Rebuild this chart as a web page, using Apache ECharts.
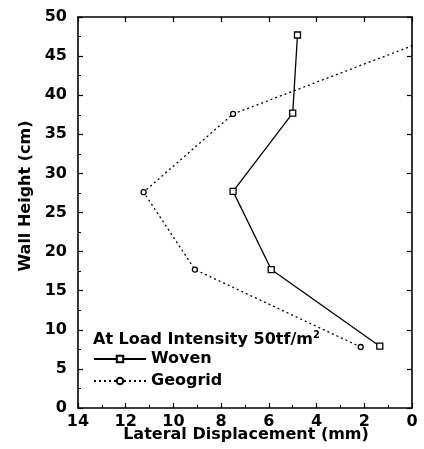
<!DOCTYPE html>
<html><head><meta charset="utf-8">
<script src="https://cdn.jsdelivr.net/npm/echarts@6/dist/echarts.min.js"></script>
<style>html,body{margin:0;padding:0;background:#fff}#c{width:424px;height:449px}</style>
</head><body><div id="c"></div>
<script>
var wallHeight = [47.7, 37.7, 27.7, 17.7, 7.9];
var wovenDisp = [4.8, 5.0, 7.5, 5.9, 1.35];
var geoHeight = [47.7, 37.6, 27.6, 17.7, 7.8];
var geogridDisp = [-1.2, 7.5, 11.25, 9.1, 2.15];
var xTicks = [0, 2, 4, 6, 8, 10, 12, 14];
var yTicks = [0, 5, 10, 15, 20, 25, 30, 35, 40, 45, 50];

var FONT = '"DejaVu Sans", sans-serif';
function pairs(xs, ys){ return xs.map(function(x,i){ return [x, ys[i]]; }); }
var chart = echarts.init(document.getElementById('c'), null, {renderer:'canvas'});
function ax(extra, showTicks){
  return Object.assign({
    axisLine:{show:true, onZero:false, lineStyle:{color:'#000', width:1.6}},
    axisTick:{show:true, inside:true, length:5, lineStyle:{color:'#000', width:1.2}},
    minorTick:{show:showTicks, splitNumber:2, length:3, lineStyle:{color:'#000', width:1}},
    splitLine:{show:false}
  }, extra);
}
chart.setOption({
  animation:false,
  grid:{left:78, right:12, top:17, bottom:41},
  xAxis:[
    ax({type:'value', position:'bottom', inverse:true, min:0, max:14, interval:2,
      axisLabel:{color:'#000', fontFamily:FONT, fontWeight:'bold', fontSize:16, margin:6,
        formatter:function(v){ return xTicks.indexOf(v) >= 0 ? String(v) : ''; }}}, true),
    ax({type:'value', position:'top', inverse:true, min:0, max:14, interval:2,
      axisLabel:{show:false}}, false)
  ],
  yAxis:[
    ax({type:'value', position:'left', min:0, max:50, interval:5,
      axisLabel:{color:'#000', fontFamily:FONT, fontWeight:'bold', fontSize:16, margin:11,
        formatter:function(v){ return yTicks.indexOf(v) >= 0 ? String(v) : ''; }}}, true),
    ax({type:'value', position:'right', min:0, max:50, interval:5,
      axisLabel:{show:false}}, false)
  ],
  legend:{
    left:88, top:346, orient:'vertical', itemWidth:52, itemHeight:8, itemGap:6,
    textStyle:{color:'#000', fontFamily:FONT, fontWeight:'bold', fontSize:16, padding:[0,0,0,0]},
    data:[{name:'Woven'},{name:'Geogrid'}]
  },
  graphic:[
    {type:'text', x:93, y:330, style:{text:'At Load Intensity 50tf/m{sup|2}', fill:'#000', font:'bold 16px '+FONT,
      rich:{sup:{fontFamily:FONT, fontWeight:'bold', fontSize:10, verticalAlign:'top', padding:[0,0,10,0]}}}},
    {type:'text', x:246, y:427, style:{text:'Lateral Displacement (mm)', fill:'#000', font:'bold 16px '+FONT, textAlign:'center'}},
    {type:'text', x:26, y:196, rotation:Math.PI/2, style:{text:'Wall Height (cm)', fill:'#000', font:'bold 16px '+FONT, textAlign:'center', textVerticalAlign:'middle'}}
  ],
  series:[
    {name:'Woven', type:'line', data:pairs(wovenDisp, wallHeight), clip:true,
      symbol:'rect', symbolSize:6, showAllSymbol:true,
      lineStyle:{color:'#000', width:1.3, type:'solid'},
      itemStyle:{color:'#fff', borderColor:'#000', borderWidth:1.3}},
    {name:'Geogrid', type:'line', data:pairs(geogridDisp, geoHeight), clip:true,
      symbol:'circle', symbolSize:5, showAllSymbol:true,
      lineStyle:{color:'#000', width:1.3, type:[2,3]},
      itemStyle:{color:'#fff', borderColor:'#000', borderWidth:1.3}}
  ]
});
</script></body></html>
